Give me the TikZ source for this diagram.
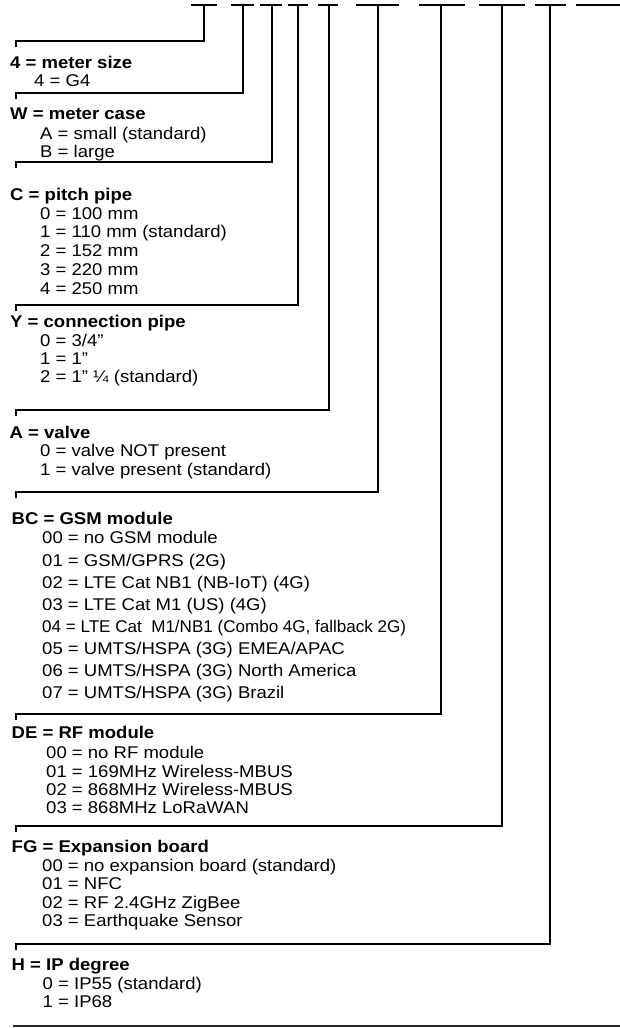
\documentclass[tikz,border=0pt]{standalone}
\usepackage{fontspec}
\setmainfont{Liberation Sans}[FakeStretch=1.09]
\begin{document}
\begin{tikzpicture}[x=1pt,y=-1pt,
  bar/.style={line width=2.4pt},
  conn/.style={line width=2.4pt,line join=miter},
  base/.style={line width=1.5pt,black!85},
  head/.style={anchor=base west,inner sep=0pt,font=\fontsize{17}{17}\selectfont\bfseries},
  item/.style={anchor=base west,inner sep=0pt,font=\fontsize{17}{17}\selectfont}]
\useasboundingbox (0,0) rectangle (620,1028);
% top bars
\foreach \a/\b in {191/217,231/254,260/282,288/308,318/338,356/399,419/465,479/525,535/566,576/620}
  \draw[bar] (\a,5) -- (\b,5);
% top coordinates
\coordinate (t1) at (204,5);
\coordinate (t2) at (243,5);
\coordinate (t3) at (272,5);
\coordinate (t4) at (298,5);
\coordinate (t5) at (329,5);
\coordinate (t6) at (378,5);
\coordinate (t7) at (441,5);
\coordinate (t8) at (502,5);
\coordinate (t9) at (550,5);
% left corners
\coordinate (c1) at (16,41);
\coordinate (c2) at (16,93);
\coordinate (c3) at (16,162);
\coordinate (c4) at (16,305);
\coordinate (c5) at (16,410);
\coordinate (c6) at (16,492);
\coordinate (c7) at (16,714);
\coordinate (c8) at (16,826);
\coordinate (c9) at (16,944);
\foreach \i in {1,...,9}
  \draw[conn] (t\i) -- (t\i |- c\i) -- (c\i) -- ++(0,6);
% texts
\node[head] (h1) at (10,68.5) {4 = meter size};
\node[item] (i1a) at (34,86.5) {4 = G4};
\node[head] (h2) at (10,119) {W = meter case};
\node[item] (i2a) at (40,139) {A = small (standard)};
\node[item] (i2b) at (40,157.5) {B = large};
\node[head] (h3) at (10,200.5) {C = pitch pipe};
\node[item] (i3a) at (40,219) {0 = 100 mm};
\node[item] (i3b) at (40,237.5) {1 = 110 mm (standard)};
\node[item] (i3c) at (40,256) {2 = 152 mm};
\node[item] (i3d) at (40,275) {3 = 220 mm};
\node[item] (i3e) at (40,294) {4 = 250 mm};
\node[head] (h4) at (10,327.5) {Y = connection pipe};
\node[item] (i4a) at (40,346.5) {0 = 3/4”};
\node[item] (i4b) at (40,364.5) {1 = 1”};
\node[item] (i4c) at (40,382.5) {2 = 1” ¼ (standard)};
\node[head] (h5) at (9.5,438) {A = valve};
\node[item] (i5a) at (40,456) {0 = valve NOT present};
\node[item] (i5b) at (40,475) {1 = valve present (standard)};
\node[head] (h6) at (11.5,524) {BC = GSM module};
\node[item] (i6a) at (42,543.5) {00 = no GSM module};
\node[item] (i6b) at (42,566.5) {01 = GSM/GPRS (2G)};
\node[item] (i6c) at (42,588.5) {02 = LTE Cat NB1 (NB-IoT) (4G)};
\node[item] (i6d) at (42,610.5) {03 = LTE Cat M1 (US) (4G)};
\node[item] (i6e) at (42,632.5) {\scalebox{0.92}[1]{04 = LTE Cat\ \ M1/NB1 (Combo 4G, fallback 2G)}};
\node[item] (i6f) at (42,654.5) {05 = UMTS/HSPA (3G) EMEA/APAC};
\node[item] (i6g) at (42,676.5) {06 = UMTS/HSPA (3G) North America};
\node[item] (i6h) at (42,698.5) {07 = UMTS/HSPA (3G) Brazil};
\node[head] (h7) at (11.5,738.5) {DE = RF module};
\node[item] (i7a) at (46,758.5) {00 = no RF module};
\node[item] (i7b) at (46,777.5) {01 = 169MHz Wireless-MBUS};
\node[item] (i7c) at (46,795.5) {02 = 868MHz Wireless-MBUS};
\node[item] (i7d) at (46,813.5) {03 = 868MHz LoRaWAN};
\node[head] (h8) at (11.5,852.5) {FG = Expansion board};
\node[item] (i8a) at (42,871.5) {00 = no expansion board (standard)};
\node[item] (i8b) at (42,889.5) {01 = NFC};
\node[item] (i8c) at (42,908.5) {02 = RF 2.4GHz ZigBee};
\node[item] (i8d) at (42,926.5) {03 = Earthquake Sensor};
\node[head] (h9) at (11.5,970) {H = IP degree};
\node[item] (i9a) at (42.5,989.5) {0 = IP55 (standard)};
\node[item] (i9b) at (42.5,1007) {1 = IP68};
% bottom rule
\draw[base] (12.5,1026) -- (620,1026);
\end{tikzpicture}
\end{document}
